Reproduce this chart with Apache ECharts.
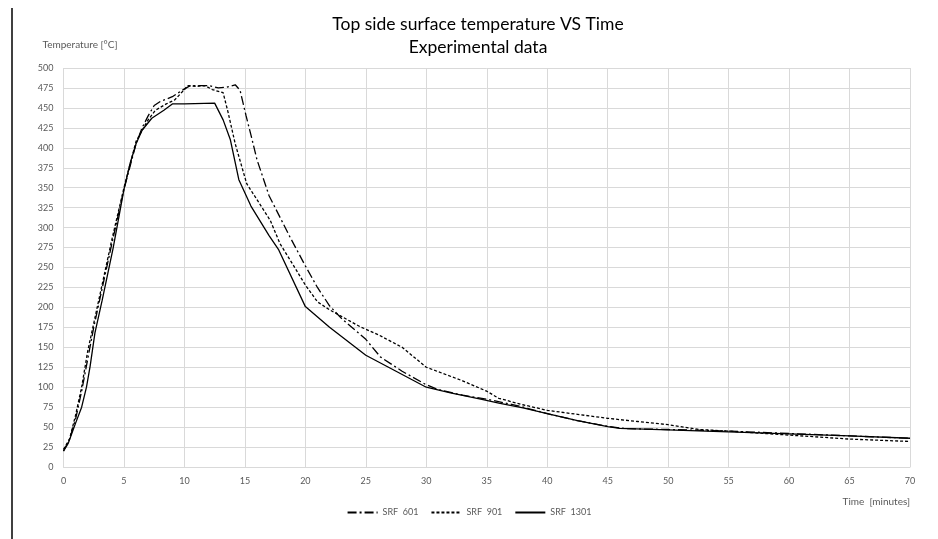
<!DOCTYPE html>
<html>
<head>
<meta charset="utf-8">
<script src="https://cdn.jsdelivr.net/npm/echarts@6/dist/echarts.min.js"></script>
<style>
html,body{margin:0;padding:0;background:#fff;}
#chart{width:938px;height:539px;}
</style>
</head>
<body>
<div id="chart"></div>
<script>
const titleText = 'Top side surface temperature VS Time\nExperimental data';
const yAxisName = 'Temperature [°C]';
const xAxisName = 'Time  [minutes]';
const seriesNames = ['SRF  601', 'SRF  901', 'SRF  1301'];

const time601 = [0, 0.5, 1, 1.5, 2, 2.5, 3, 4, 5, 6, 6.5, 7, 7.5, 8, 9, 9.8, 10.5, 12, 12.8, 13.5, 14.2, 14.6, 15.1, 15.6, 16, 17, 18.7, 20, 21, 22, 23, 25, 26.2, 28, 30, 31, 33, 35, 37.5, 40, 42.5, 45, 46.5, 50, 55, 60, 65, 70];
const temp601 = [20, 35, 60, 95, 135, 175, 210, 280, 348, 405, 425, 440, 453, 458, 464, 472, 478, 478, 475, 476, 479, 472, 440, 410, 385, 340, 289, 252, 225, 202, 186, 160, 138, 120, 103, 97, 90, 85, 77, 67, 58, 51, 48, 47, 45, 42, 39, 36];

const time901 = [0, 0.5, 1, 1.5, 2, 2.5, 3, 4, 5, 6, 6.5, 7, 7.6, 8.5, 9.2, 10.3, 11, 11.7, 12.3, 13.2, 13.6, 14.2, 15.15, 16, 17.1, 17.9, 19, 20, 21, 22, 24.5, 26, 28, 30, 33, 35, 36, 38, 40, 42.5, 45, 47.5, 50, 52.6, 55, 60, 65, 70];
const temp901 = [22, 35, 65, 100, 145, 180, 215, 285, 350, 408, 422, 435, 447, 455, 460, 478, 477, 478, 473, 469, 445, 405, 355, 335, 309, 280, 253, 228, 207, 197, 176, 166, 150, 125, 108, 95, 86, 78, 71, 66, 61, 57, 53, 47, 45, 40, 35, 32];

const time1301 = [0, 0.4, 1, 1.5, 1.9, 2.2, 2.6, 3.2, 4.1, 5, 5.5, 6, 6.5, 7.3, 8.3, 9, 10, 12.5, 13.2, 13.8, 14.5, 15.5, 17, 17.8, 20, 22, 25, 27.5, 30, 32, 34.5, 36, 38, 40, 42.5, 45, 46, 50, 55, 60, 65, 70];
const temp1301 = [20, 30, 55, 75, 100, 126, 168, 209, 274, 348, 380, 405, 422, 437, 447, 455, 455, 456, 435, 410, 360, 327, 290, 272, 201, 175, 140, 120, 100, 93, 85, 80, 74, 67, 58, 50.5, 48.5, 46.6, 44, 41.5, 39, 36];

function pairs(ts, vs) { return ts.map((t, i) => [t, vs[i]]); }

const chart = echarts.init(document.getElementById('chart'), null, {renderer: 'canvas'});
const font = 'Lato, "Open Sans", sans-serif';
const labelColor = '#595959';
const gridColor = '#d9d9d9';

chart.setOption({
  animation: false,
  backgroundColor: '#fff',
  textStyle: {fontFamily: font},
  title: {
    text: titleText,
    left: 478,
    top: 13,
    textAlign: 'center',
    padding: 0,
    textStyle: {fontFamily: font, fontSize: 17.5, fontWeight: 'normal', color: '#000', lineHeight: 23}
  },
  graphic: [{
    type: 'line',
    shape: {x1: 12, y1: 8, x2: 12, y2: 539},
    style: {stroke: '#000', lineWidth: 1.5}
  }],
  legend: {
    bottom: 17,
    left: 'center',
    itemWidth: 30,
    itemHeight: 10,
    itemGap: 12,
    itemStyle: {opacity: 0},
    textStyle: {fontFamily: font, fontSize: 9, color: labelColor},
    data: seriesNames
  },
  grid: {left: 63.5, right: 28, top: 68, bottom: 72, containLabel: false},
  xAxis: {
    type: 'value',
    min: 0, max: 70, interval: 5,
    name: xAxisName,
    nameLocation: 'end',
    nameGap: 0,
    nameTextStyle: {fontFamily: font, fontSize: 10, color: labelColor, align: 'right', verticalAlign: 'top', padding: [30, 0, 0, 0]},
    axisLine: {show: true, lineStyle: {color: gridColor}},
    axisTick: {show: false},
    axisLabel: {fontFamily: font, fontSize: 9, color: labelColor, margin: 10},
    splitLine: {show: true, lineStyle: {color: gridColor, width: 1}}
  },
  yAxis: {
    type: 'value',
    min: 0, max: 500, interval: 25,
    name: yAxisName,
    nameLocation: 'end',
    nameGap: 18,
    nameTextStyle: {fontFamily: font, fontSize: 10, color: labelColor, align: 'center', padding: [0, 0, 0, 33]},
    axisLine: {show: false},
    axisTick: {show: false},
    axisLabel: {fontFamily: font, fontSize: 9, color: labelColor, margin: 10},
    splitLine: {show: true, lineStyle: {color: gridColor, width: 1}}
  },
  series: [
    {name: seriesNames[0], type: 'line', showSymbol: false, symbol: 'none', data: pairs(time601, temp601),
      lineStyle: {color: '#000', width: 1.3, type: [9, 3, 2, 3]}, itemStyle: {color: '#000'}},
    {name: seriesNames[1], type: 'line', showSymbol: false, symbol: 'none', data: pairs(time901, temp901),
      lineStyle: {color: '#000', width: 1.3, type: [3, 2]}, itemStyle: {color: '#000'}},
    {name: seriesNames[2], type: 'line', showSymbol: false, symbol: 'none', data: pairs(time1301, temp1301),
      lineStyle: {color: '#000', width: 1.3, type: 'solid'}, itemStyle: {color: '#000'}}
  ]
});
</script>
</body>
</html>
